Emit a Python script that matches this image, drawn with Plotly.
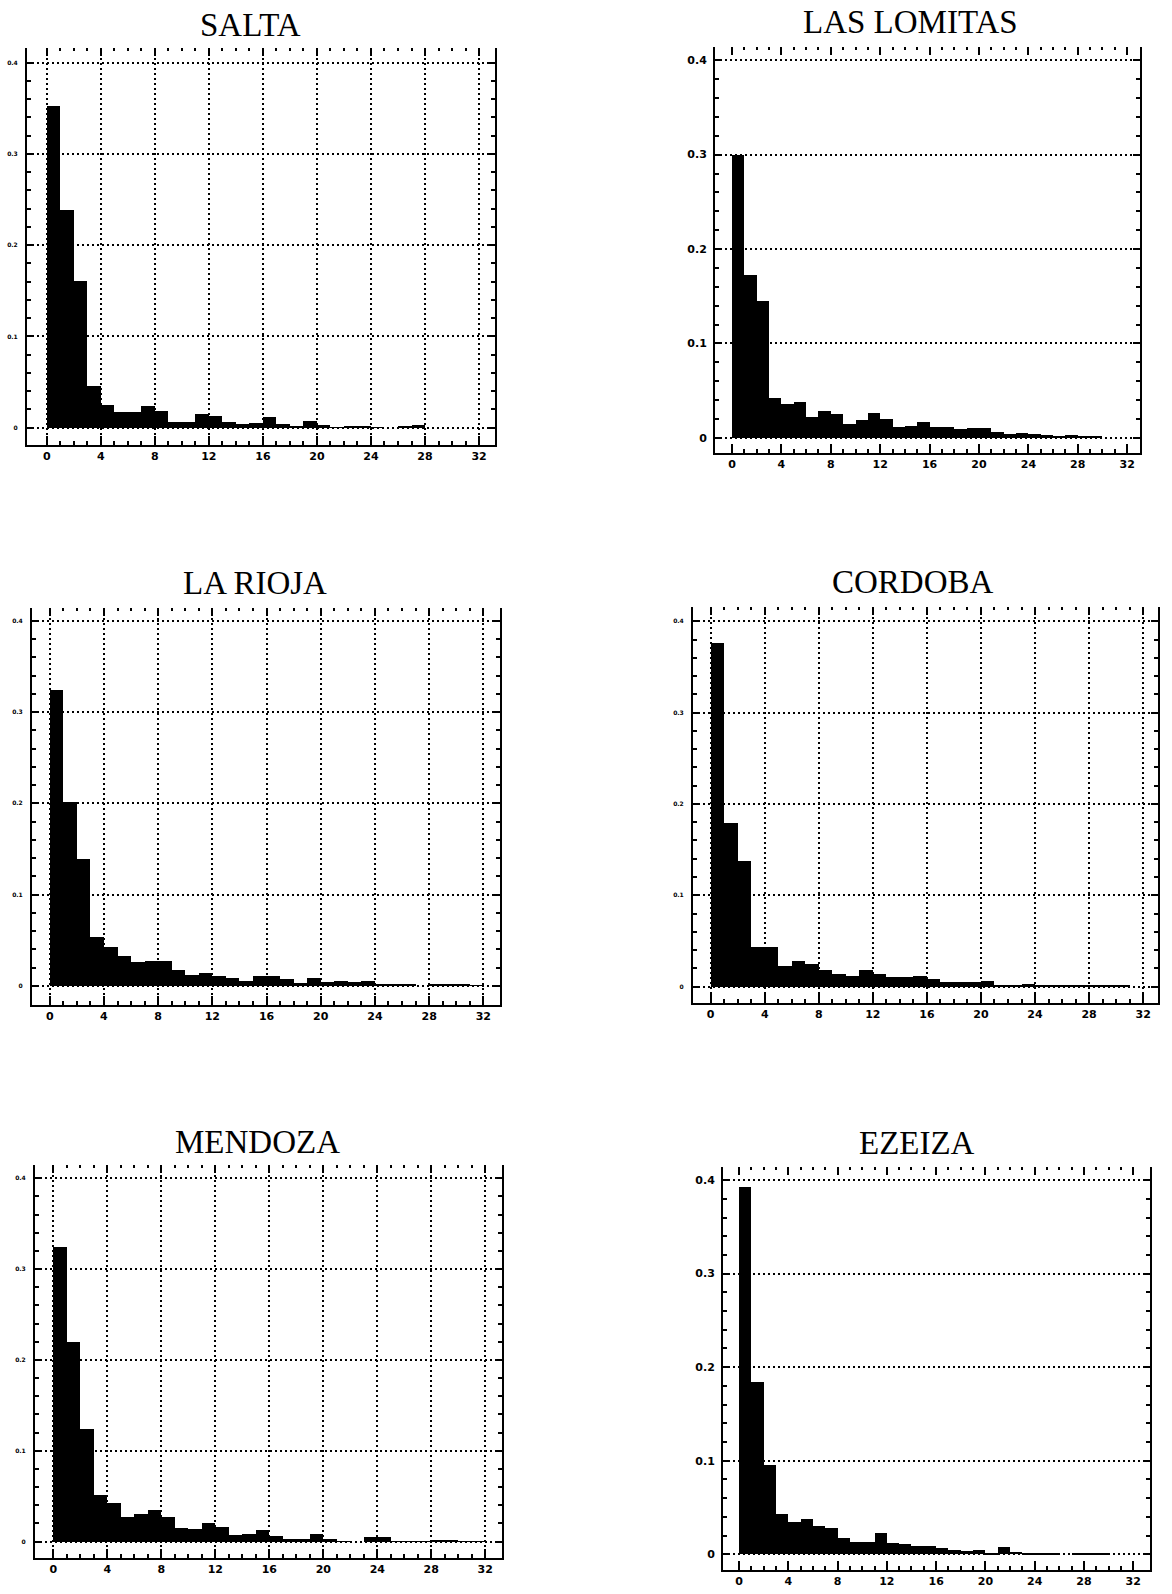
import plotly.graph_objects as go

# ---------------- data ----------------
bins = list(range(32))  # bin starts (hours), bin width 1

salta = [0.3525, 0.239, 0.161, 0.0457, 0.0248, 0.0175, 0.0175, 0.0237, 0.0186, 0.0066,
         0.0066, 0.0146, 0.0128, 0.0066, 0.004, 0.0055, 0.012, 0.004, 0.001, 0.0073,
         0.003, 0.0007, 0.0018, 0.0018, 0.0007, 0.0, 0.0018, 0.0033, 0.0, 0.0, 0.0, 0.0]
las_lomitas = [0.2996, 0.1727, 0.1452, 0.0423, 0.036, 0.038, 0.0222, 0.0282, 0.0257, 0.0152,
               0.0187, 0.0264, 0.0204, 0.0113, 0.0123, 0.0169, 0.0113, 0.0116, 0.0092, 0.0102,
               0.0102, 0.006, 0.0046, 0.0056, 0.0046, 0.0032, 0.0018, 0.003, 0.0018, 0.0014, 0.0, 0.0]
la_rioja = [0.324, 0.2016, 0.1395, 0.0537, 0.0427, 0.0325, 0.0256, 0.027, 0.027, 0.0179,
            0.0117, 0.0146, 0.0106, 0.0091, 0.0051, 0.0106, 0.0106, 0.0073, 0.0026, 0.0088,
            0.0044, 0.0051, 0.004, 0.0055, 0.0022, 0.0011, 0.0011, 0.0, 0.0015, 0.0015, 0.0011, 0.0004]
cordoba = [0.3767, 0.1794, 0.1378, 0.0438, 0.0438, 0.0226, 0.0281, 0.0244, 0.0182, 0.0139,
           0.012, 0.0182, 0.0139, 0.0102, 0.0102, 0.012, 0.008, 0.0051, 0.0051, 0.0051,
           0.0062, 0.0007, 0.0018, 0.0029, 0.0022, 0.0018, 0.0018, 0.0018, 0.0007, 0.0011, 0.0018, 0.0]
mendoza = [0.3248, 0.2202, 0.1237, 0.0514, 0.0429, 0.0275, 0.0301, 0.0349, 0.0268, 0.0154,
           0.0139, 0.0202, 0.0158, 0.0073, 0.0081, 0.0128, 0.0066, 0.0033, 0.0026, 0.0084,
           0.0029, 0.0007, 0.0, 0.0048, 0.0048, 0.0007, 0.0007, 0.0007, 0.0011, 0.0015, 0.0004, 0.0004]
ezeiza = [0.3922, 0.1845, 0.0955, 0.0431, 0.0349, 0.0374, 0.0306, 0.0278, 0.0178, 0.0135,
          0.0135, 0.0232, 0.0118, 0.0107, 0.0089, 0.0089, 0.0071, 0.0046, 0.0036, 0.0046,
          0.0018, 0.0075, 0.0028, 0.0018, 0.0007, 0.0007, 0.0, 0.0007, 0.0007, 0.0004, 0.0, 0.0]

titles = ["SALTA", "LAS LOMITAS", "LA RIOJA", "CORDOBA", "MENDOZA", "EZEIZA"]
series = [salta, las_lomitas, la_rioja, cordoba, mendoza, ezeiza]

x_major = [0, 4, 8, 12, 16, 20, 24, 28, 32]
x_labels = ["0", "4", "8", "12", "16", "20", "24", "28", "32"]
x_minor = list(range(33))
y_major = [0, 0.1, 0.2, 0.3, 0.4]
y_labels = ["0", "0.1", "0.2", "0.3", "0.4"]
y_minor = [round(0.02 * j, 2) for j in range(21)]

# ---------------- layout (pixel geometry of each panel) ----------------
W, H = 1172, 1594
panels = [
    dict(L=27, R=495, T=48, B=445, xr=[-1.46, 33.18], yr=[-0.019, 0.416], vgrid=True, big=False,
         tx=250, ty=25),
    dict(L=715, R=1140, T=47, B=453, xr=[-1.38, 33.04], yr=[-0.016, 0.414], vgrid=False, big=True,
         tx=910, ty=22),
    dict(L=32, R=500, T=608, B=1005, xr=[-1.31, 33.23], yr=[-0.021, 0.414], vgrid=True, big=False,
         tx=255, ty=583),
    dict(L=693, R=1158, T=607, B=1003, xr=[-1.31, 33.1], yr=[-0.018, 0.4156], vgrid=True, big=False,
         tx=913, ty=582),
    dict(L=35, R=502, T=1165, B=1558, xr=[-1.36, 33.24], yr=[-0.018, 0.4146], vgrid=True, big=False,
         tx=257, ty=1142),
    dict(L=723, R=1150, T=1167, B=1570, xr=[-1.3, 33.36], yr=[-0.0168, 0.414], vgrid=False, big=True,
         tx=917, ty=1143),
]

fig = go.Figure()
layout = {}
annotations = []
DOT = "2px,3px"
for k, (p, vals, title) in enumerate(zip(panels, series, titles)):
    i = k + 1
    xa = "x" if i == 1 else f"x{i}"
    ya = "y" if i == 1 else f"y{i}"
    xt = f"x{i + 6}"
    fig.add_trace(go.Bar(x=bins, y=vals, width=1, offset=0,
                         marker=dict(color="black", line=dict(width=0)),
                         xaxis=xa, yaxis=ya, showlegend=False, hoverinfo="skip"))
    fig.add_trace(go.Scatter(x=[None], y=[None], xaxis=xt, yaxis=ya, showlegend=False,
                             hoverinfo="skip", mode="markers"))
    xd = [p["L"] / W, p["R"] / W]
    yd = [1 - p["B"] / H, 1 - p["T"] / H]
    tickfont = dict(family="DejaVu Sans", size=11, color="black", weight="bold")
    layout["xaxis" if i == 1 else f"xaxis{i}"] = dict(
        domain=xd, anchor=ya, range=p["xr"], showline=True, linecolor="black", linewidth=2,
        ticks="inside", tickmode="array", tickvals=x_major, ticktext=x_labels, ticklen=9,
        tickwidth=2, tickcolor="black",
        minor=dict(tickmode="array", tickvals=x_minor, ticks="inside", ticklen=4, tickwidth=1.5,
                   tickcolor="black", showgrid=False),
        showgrid=p["vgrid"], gridcolor="black", griddash=DOT, gridwidth=1.6,
        zeroline=False, tickfont=tickfont, fixedrange=True)
    layout[f"xaxis{i + 6}"] = dict(
        overlaying=xa, anchor=ya, side="top", range=p["xr"], showline=False,
        ticks="inside", tickmode="array", tickvals=x_major, ticklen=8, tickwidth=2, tickcolor="black",
        minor=dict(tickmode="array", tickvals=x_minor, ticks="inside", ticklen=3, tickwidth=2,
                   tickcolor="black", showgrid=False),
        showticklabels=False, showgrid=False, zeroline=False, fixedrange=True)
    yfont = tickfont if p["big"] else dict(family="DejaVu Sans", size=6, color="black", weight="bold")
    layout["yaxis" if i == 1 else f"yaxis{i}"] = dict(
        domain=yd, anchor=xa, range=p["yr"], showline=True, mirror="ticks", linecolor="black",
        linewidth=2, ticks="inside", tickmode="array", tickvals=y_major, ticktext=y_labels,
        ticklen=7, tickwidth=2, tickcolor="black",
        minor=dict(tickmode="array", tickvals=y_minor, ticks="inside", ticklen=4, tickwidth=1.5,
                   tickcolor="black", showgrid=False),
        showgrid=True, gridcolor="black", griddash=DOT, gridwidth=1.6, zeroline=False,
        tickfont=yfont, ticklabelstandoff=4 if p["big"] else 6, fixedrange=True)
    annotations.append(dict(text=title, x=p["tx"] / W, y=1 - p["ty"] / H, xref="paper", yref="paper",
                            xanchor="center", yanchor="middle", showarrow=False,
                            font=dict(family="Liberation Serif", size=33, color="black")))

fig.update_layout(**layout)
fig.update_layout(width=W, height=H, margin=dict(l=0, r=0, t=0, b=0),
                  paper_bgcolor="white", plot_bgcolor="white", annotations=annotations,
                  bargap=0, showlegend=False)
fig.write_html("out.html")
